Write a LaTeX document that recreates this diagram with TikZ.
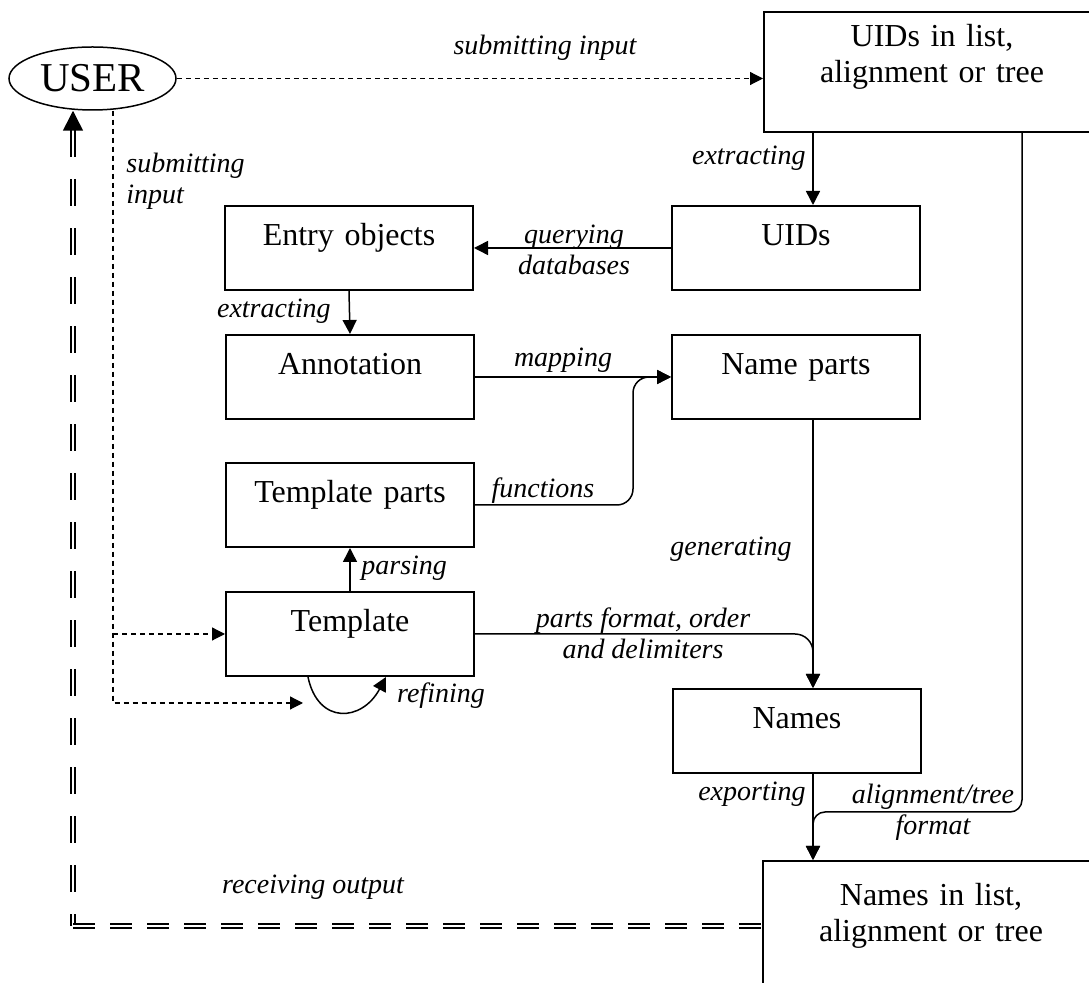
\documentclass[tikz,border=0pt]{standalone}
\usepackage{fontspec}
\setmainfont{Liberation Serif}
\usetikzlibrary{positioning,shapes,arrows.meta}

\begin{document}
\begin{tikzpicture}[x=0.5pt,y=-0.5pt]
\tikzstyle{every node}+=[inner sep=0pt]
\tikzstyle{box}=[draw, line width=1pt, minimum width=124pt, minimum height=42pt, text width=122pt, align=center, text height=20pt, text depth=22pt, font=\fontsize{16}{17.6}\selectfont]
\tikzstyle{bigbox}=[box, minimum width=168pt, minimum height=60pt, text width=166pt, text depth=40pt]
\tikzstyle{lbl}=[font=\fontsize{14}{15.5}\selectfont\itshape, align=center]
\tikzstyle{arr}=[line width=0.75pt, -{Triangle[length=7pt,width=7pt]}]
\tikzstyle{usrline}=[line width=0.6pt, dash pattern=on 2.5pt off 2pt, -{Triangle[length=6.5pt,width=6.5pt]}]
\tikzstyle{retline}=[line width=0.75pt, double, double distance=1.25pt]
\useasboundingbox (0,0) rectangle (1089,983);
\clip (0,0) rectangle (1089,983);

\node [ellipse, draw, line width=0.75pt, minimum width=83.5pt, minimum height=31.5pt, font=\fontsize{20.5}{24}\selectfont] (user) at (92.5,78.5) {USER};
\node [bigbox, text height=17.5pt, text depth=42.5pt] (uidlist) at (932,72) {UIDs in list,\\alignment or tree};
\node [box] (uids) at (796,248) {UIDs};
\node [box] (entry) at (349,248) {Entry objects};
\node [box] (annot) at (350,377) {Annotation};
\node [box] (nparts) at (796,377) {Name parts};
\node [box] (tparts) at (350,505) {Template parts};
\node [box] (templ) at (350,634) {Template};
\node [box] (names) at (797,731) {Names};
\node [bigbox, minimum height=65pt, text height=22.5pt, text depth=42.5pt] (nlist) at (931,926) {Names in list,\\alignment or tree};

\coordinate (xr) at (813,0);
\coordinate (xf) at (1022,0);
\coordinate (xc) at (633,0);
\coordinate (xu) at (113,0);
\coordinate (xd) at (73,0);
\coordinate (xa) at (308,0);
\coordinate (xb) at (386,0);
\coordinate (bend) at (813,812);
\coordinate (rf) at (303,703);
\coordinate (corner) at (xd |- nlist.west);

\draw [usrline] (user.east) -- (user.east -| uidlist.west);
\draw [usrline] (user.south -| xu) |- (rf);
\draw [usrline] (xu |- templ.west) -- (templ.west);
\draw [retline, dash pattern=on 13.5pt off 11pt, {Triangle[length=10pt,width=10pt]}-] (xd |- user.south) -- (corner);
\draw [retline, dash pattern=on 11pt off 7.5pt] (corner) -- (nlist.west);

\draw [arr] (uidlist.south -| xr) -- (uids.north -| xr);
\draw [arr, rounded corners=6pt] (uidlist.south -| xf) |- (bend) -- (nlist.north -| xr);
\draw [arr] (uids.west) -- (entry.east);
\draw [arr] (entry.south) -- (annot.north);
\draw [arr] (annot.east) -- (nparts.west);
\draw [arr, rounded corners=8pt] (tparts.east) -| (xc |- nparts.west) -- (nparts.west);
\draw [arr] (templ.north) -- (tparts.south);
\draw [arr, rounded corners=9pt] (templ.east) -| (names.north -| xr);
\draw [arr] (nparts.south -| xr) -- (names.north -| xr);
\draw [arr] (names.south -| xr) -- (nlist.north -| xr);
\draw [arr] (templ.south -| xa) .. controls (318,725) and (362,722) .. (templ.south -| xb);

\node [lbl, anchor=base] (lsub) at (545,55) {submitting input};
\node [lbl, anchor=west, align=left] (lsubin) at (126,181) {submitting\\input};
\node [lbl, anchor=base east] (lext) at (806,165) {extracting};
\node [lbl] (lquery) at (574,250) {querying\\databases};
\node [lbl, anchor=base east] (lextb) at (331,318) {extracting};
\node [lbl, anchor=base] (lmap) at (563,367) {mapping};
\node [lbl, anchor=base] (lfun) at (543,498) {functions};
\node [lbl, anchor=base] (lgen) at (731,556) {generating};
\node [lbl, anchor=base west] (lpars) at (361,575) {parsing};
\node [lbl] (lparts) at (643,633) {parts format, order\\and delimiters};
\node [lbl, anchor=base] (lref) at (441,703) {refining};
\node [lbl, anchor=base east] (lexp) at (806,801) {exporting};
\node [lbl] (lalign) at (933,812) {alignment/tree\\format};
\node [lbl, anchor=base] (lrec) at (313,894) {receiving output};
\end{tikzpicture}
\end{document}
